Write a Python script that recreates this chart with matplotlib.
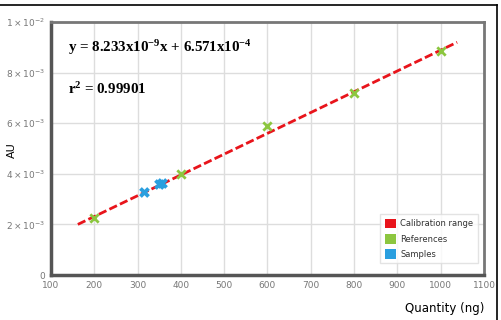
import matplotlib.pyplot as plt
from matplotlib.patches import Patch
from matplotlib.lines import Line2D

plt.rcParams["mathtext.default"] = "regular"

# calibration line end points (ng, AU)
line_x = [162, 1038]
line_y = [2.0e-3, 9.2e-3]

ref_x = [200, 400, 600, 800, 1000]
ref_y = [2.24e-3, 3.98e-3, 5.9e-3, 7.18e-3, 8.85e-3]

sample_x = [315, 350, 356]
sample_y = [3.27e-3, 3.58e-3, 3.63e-3]

x_ticks = [100, 200, 300, 400, 500, 600, 700, 800, 900, 1000, 1100]
y_ticks = [0, 2e-3, 4e-3, 6e-3, 8e-3, 1e-2]
y_tick_labels = ["0", r"$2\times10^{-3}$", r"$4\times10^{-3}$", r"$6\times10^{-3}$",
                 r"$8\times10^{-3}$", r"$1\times10^{-2}$"]

RED = "#e8141b"
GREEN = "#8cc63f"
BLUE = "#2a9fdf"

fig = plt.figure(figsize=(5.02, 3.2), dpi=100)
ax = fig.add_axes([0.1016, 0.1406, 0.8625, 0.7906])

ax.plot(line_x, line_y, color=RED, linewidth=2, linestyle=(0, (3, 1.2)), zorder=3)
ax.scatter(ref_x, ref_y, marker="x", color=GREEN, s=36, linewidths=2, zorder=4)
ax.scatter(sample_x, sample_y, marker="X", color=BLUE, s=60, linewidths=0, zorder=4)

ax.set_xlim(100, 1100)
ax.set_ylim(0, 1e-2)
ax.set_xticks(x_ticks)
ax.set_yticks(y_ticks)
ax.set_yticklabels(y_tick_labels)
ax.tick_params(labelsize=6.5, labelcolor="#777777", length=0, pad=4)
ax.grid(True, color="#dddddd", linewidth=1)
ax.set_axisbelow(True)

for side in ["left", "bottom"]:
    ax.spines[side].set_linewidth(2.5)
    ax.spines[side].set_color("#555555")
for side in ["top", "right"]:
    ax.spines[side].set_linewidth(2)
    ax.spines[side].set_color("#777777")

fig.text(0.024, 0.53, "AU", rotation=90, fontsize=8, ha="center", va="center")
fig.text(0.965, 0.035, "Quantity (ng)", fontsize=8.5, ha="right", va="center")

ax.text(0.04, 0.9, r"y = 8.233x10$^{-9}$x + 6.571x10$^{-4}$", transform=ax.transAxes,
        family="Liberation Serif", fontweight="bold", fontsize=10.8, va="center")
ax.text(0.04, 0.735, r"r$^{2}$ = 0.99901", transform=ax.transAxes,
        family="Liberation Serif", fontweight="bold", fontsize=10.8, va="center")

handles = [
    Patch(facecolor=RED, edgecolor="none", label="Calibration range"),
    Patch(facecolor=GREEN, edgecolor="none", label="References"),
    Patch(facecolor=BLUE, edgecolor="none", label="Samples"),
]
leg = ax.legend(handles=handles, loc="lower right", bbox_to_anchor=(0.995, 0.03),
                fontsize=6, frameon=True, fancybox=False, handlelength=1.4,
                handleheight=1.4, labelspacing=0.7, borderpad=0.5, handletextpad=0.5)
leg.get_frame().set_edgecolor("#dddddd")
leg.get_frame().set_linewidth(1)
for t in leg.get_texts():
    t.set_color("#333333")

# outer frame of the picture
fig.add_artist(Line2D([0, 0.99], [0.985, 0.985], color="black", linewidth=1.2,
                      transform=fig.transFigure))
fig.add_artist(Line2D([0.99, 0.99], [0.0, 0.985], color="black", linewidth=1.2,
                      transform=fig.transFigure))

fig.savefig("out.png", dpi=100)
